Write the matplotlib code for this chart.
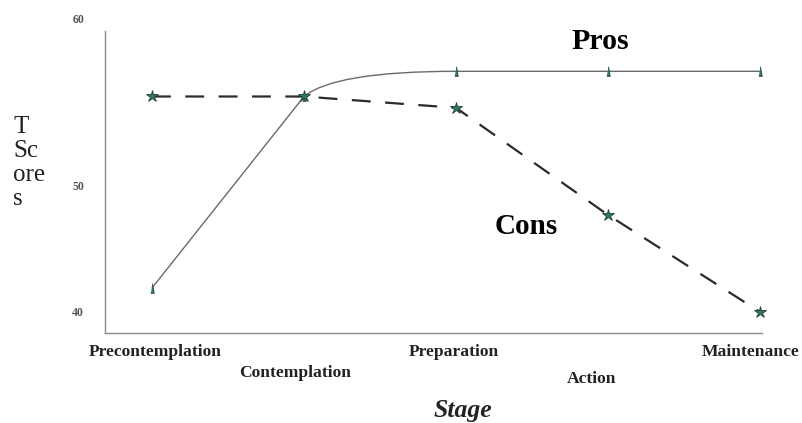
import matplotlib
matplotlib.use('Agg')
import matplotlib.pyplot as plt
from matplotlib.path import Path
from matplotlib.patches import PathPatch
from matplotlib.transforms import ScaledTranslation

plt.rcParams['font.family'] = ['Liberation Serif', 'DejaVu Serif']

# data
stages = ['Precontemplation', 'Contemplation', 'Preparation', 'Action', 'Maintenance']
pros = [41.9, 57.1, 59.1, 59.1, 59.1]
cons = [57.1, 57.1, 56.2, 47.7, 40.0]
ytick_vals = [40, 50, 63.3]
ytick_labels = ['40', '50', '60']

x = list(range(len(stages)))

fig = plt.figure(figsize=(8.02, 4.23), dpi=100)
ax = fig.add_axes([105 / 802, 1 - 333 / 423, 657 / 802, 315 / 423])
ax.set_xlim(-0.309, 4.013)
ax.set_ylim(38.33, 63.33)

# pros line: straight first step, then a soft bend into the plateau
verts = [(x[0], pros[0]), (x[1], pros[1]), (x[1] + 0.2, pros[2]), (x[2], pros[2])]
codes = [Path.MOVETO, Path.LINETO, Path.CURVE3, Path.CURVE3]
for i in range(3, len(x)):
    verts.append((x[i], pros[i]))
    codes.append(Path.LINETO)
ax.add_patch(PathPatch(Path(verts, codes), fill=False, edgecolor='#6a6a6a', lw=1.0))
ax.plot(x, pros, ls='none', marker=[(-0.35, -1), (0.35, -1), (0, 1)], ms=7,
        mfc='#2f7a5c', mec='#24463a', mew=0.6, clip_on=False, zorder=4)

# cons line
ax.plot(x, cons, color='#2b2b2b', lw=1.6, dashes=(8.5, 6.5), zorder=3, clip_on=False)
ax.plot(x, cons, ls='none', marker='*', ms=9, mfc='#2f7a5c', mec='#1f3f33', mew=0.6,
        clip_on=False, zorder=4)

ax.text(2.95, 61.5, 'Pros', fontsize=21.5, fontweight='bold', ha='center', va='center')
ax.text(2.46, 46.8, 'Cons', fontsize=21, fontweight='bold', ha='center', va='center')

for s in ['top', 'right']:
    ax.spines[s].set_visible(False)
for s in ['left', 'bottom']:
    ax.spines[s].set_color('#8a8a8a')
    ax.spines[s].set_linewidth(1.0)
ax.spines['left'].set_bounds(38.33, 62.3)

ax.set_yticks(ytick_vals)
ax.set_yticklabels(ytick_labels, fontsize=8.5, fontweight='bold', color='#555555')
ax.tick_params(axis='y', length=0, pad=15)

ax.set_xticks(x)
ax.set_xticklabels(stages, fontsize=12.6, fontweight='bold', color='#222222')
ax.tick_params(axis='x', length=0)
pads = [8, 23, 8, 27, 8]
shifts = [3, -9, -2, -16, -9]
for tick, p, dx in zip(ax.xaxis.get_major_ticks(), pads, shifts):
    tick.set_pad(p)
    lab = tick.label1
    lab.set_transform(lab.get_transform() + ScaledTranslation(dx / 100, 0, fig.dpi_scale_trans))

fig.text(13 / 802, 1 - 163 / 423, 'T\nSc\nore\ns', fontsize=18, ha='left', va='center',
         linespacing=1.1, color='#222222')
fig.text(463 / 802, 1 - 410 / 423, 'Stage', fontsize=18.5, fontweight='bold', style='italic',
         ha='center', va='center', color='#222222')

fig.savefig('out.png', dpi=100)
